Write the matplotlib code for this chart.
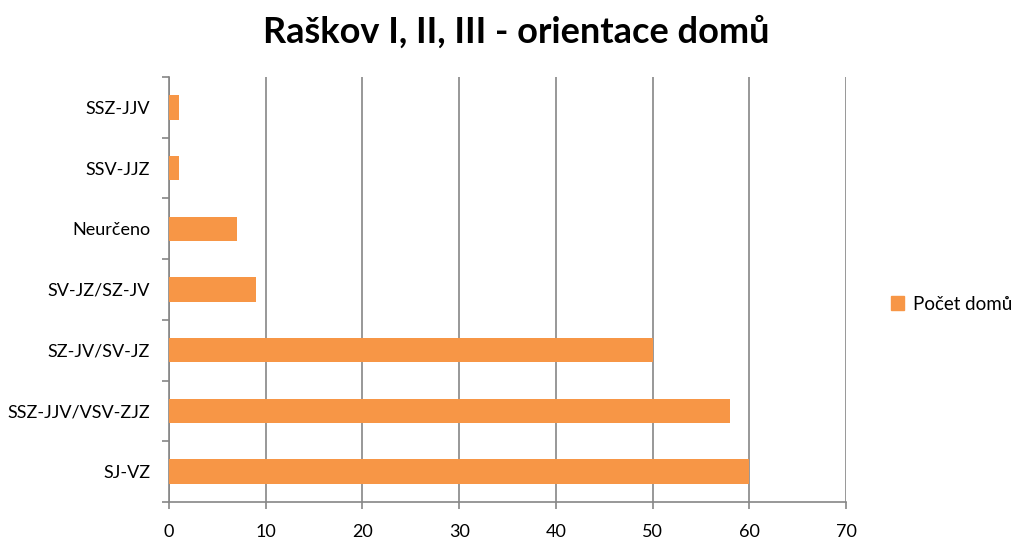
import matplotlib
matplotlib.use("Agg")
import matplotlib.pyplot as plt
import matplotlib.patches as mpatches

categories = ["SJ-VZ", "SSZ-JJV/VSV-ZJZ", "SZ-JV/SV-JZ", "SV-JZ/SZ-JV", "Neurčeno", "SSV-JJZ", "SSZ-JJV"]
counts = [60, 58, 50, 9, 7, 1, 1]
x_ticks = [0, 10, 20, 30, 40, 50, 60, 70]

bar_color = "#F79646"
grid_color = "#868686"

plt.rcParams["font.family"] = ["Lato", "DejaVu Sans"]

fig = plt.figure(figsize=(10.16, 5.4), dpi=100)
ax = fig.add_axes([169 / 1016, 1 - 502 / 540, (846 - 169) / 1016, (502 - 77) / 540])

y = list(range(len(categories)))
ax.barh(y, counts, height=0.4, color=bar_color, zorder=3)

ax.set_xlim(0, 70)
ax.set_ylim(-0.5, len(categories) - 0.5)
ax.set_xticks(x_ticks)
ax.set_xticklabels([str(t) for t in x_ticks], fontsize=13)
ax.set_yticks(y)
ax.set_yticklabels(categories, fontsize=13)
ax.set_yticks([i + 0.5 for i in range(-1, len(categories))], minor=True)

ax.xaxis.grid(True, color=grid_color, linewidth=1.2, zorder=0)
ax.tick_params(axis="y", which="major", length=0, pad=13.5)
ax.tick_params(axis="y", which="minor", length=5, color=grid_color, width=1.2)
ax.tick_params(axis="x", length=5, color=grid_color, width=1.2, pad=11)

for s in ["top", "right"]:
    ax.spines[s].set_visible(False)
for s in ["left", "bottom"]:
    ax.spines[s].set_color(grid_color)
    ax.spines[s].set_linewidth(1.2)

fig.text(516 / 1016, 1 - 32 / 540, "Raškov I, II, III - orientace domů",
         fontsize=26, fontweight="bold", ha="center", va="center")

patch = mpatches.Patch(color=bar_color, label="Počet domů")
fig.legend(handles=[patch], loc="center left", bbox_to_anchor=(874 / 1016, 1 - 304 / 540),
           frameon=False, fontsize=13.5, handlelength=0.7, handleheight=0.7, handletextpad=0.5)

fig.savefig("out.png", dpi=100)
